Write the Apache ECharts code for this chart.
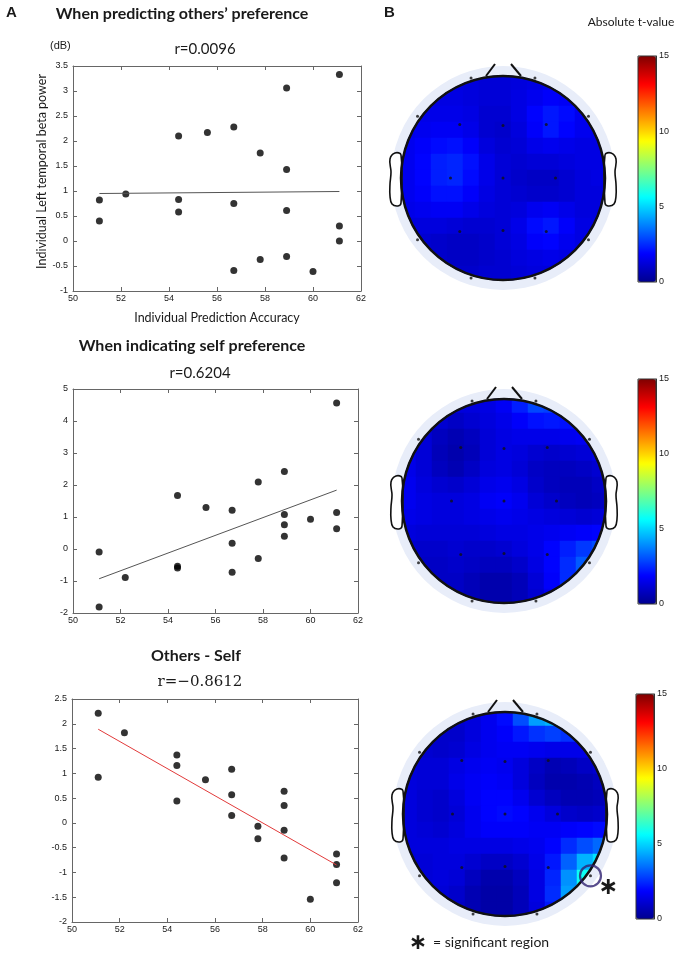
<!DOCTYPE html>
<html>
<head>
<meta charset="utf-8">
<script src="https://cdn.jsdelivr.net/npm/echarts@6/dist/echarts.min.js"></script>
<style>
  html, body { margin: 0; padding: 0; background: #fff; }
  #main { width: 681px; height: 954px; }
</style>
</head>
<body>
<div id="main"></div>
<script>
// x = individual prediction accuracy (%)
var accuracy = [51.1, 51.1, 52.2, 54.4, 54.4, 54.4, 55.6, 56.7, 56.7, 56.7,
                57.8, 57.8, 58.9, 58.9, 58.9, 58.9, 60.0, 61.1, 61.1, 61.1];
var betaOthers = [0.82, 0.40, 0.94, 2.10, 0.83, 0.58, 2.17, 2.28, 0.75, -0.59,
                  1.76, -0.37, 3.06, 1.43, 0.61, -0.31, -0.61, 3.33, 0.30, 0.00];
var betaSelf = [-0.09, -1.81, -0.89, 1.67, -0.54, -0.59, 1.30, 1.21, 0.18, -0.73,
                2.09, -0.30, 2.42, 1.08, 0.76, 0.40, 0.93, 4.56, 1.14, 0.63];
var betaDiff = [2.21, 0.92, 1.82, 1.37, 1.16, 0.44, 0.87, 1.08, 0.57, 0.15,
                -0.07, -0.32, 0.64, 0.35, -0.15, -0.71, -1.54, -0.63, -0.84, -1.21];
// regression line end points [x, y]
var fitOthers = [[51.1, 0.95], [61.1, 0.99]];
var fitSelf = [[51.1, -0.93], [61.1, 1.84]];
var fitDiff = [[51.1, 1.89], [61.1, -0.85]];
var titles = ['When predicting others\u2019 preference', 'When indicating self preference', 'Others - Self'];
var rLabels = ['r=0.0096', 'r=0.6204', 'r=\u22120.8612'];
var yMin = [-1, -2, -2], yMax = [3.5, 5, 2.5], yStep = [0.5, 1, 0.5];

// absolute t-value read on a 13 x 13 grid over the scalp (front row first)
var topoOthers = [
  [1.4,1.4,1.4,1.3,1.3,1.2,1.2,1.3,1.4,1.5,1.5,1.5,1.5],
  [1.4,1.4,1.4,1.4,1.3,1.2,1.2,1.4,1.6,1.8,1.7,1.5,1.5],
  [1.5,1.5,1.5,1.5,1.4,1.1,1.1,1.4,1.9,2.2,2.0,1.6,1.5],
  [1.5,1.6,1.7,1.7,1.5,1.1,1.0,1.3,1.8,2.2,1.9,1.6,1.5],
  [1.6,1.8,2.0,2.1,1.8,1.3,1.1,1.2,1.5,1.6,1.5,1.4,1.4],
  [1.6,1.9,2.3,2.4,2.1,1.5,1.2,1.1,1.2,1.2,1.3,1.4,1.4],
  [1.6,1.9,2.3,2.4,2.0,1.5,1.2,1.0,0.9,0.9,1.1,1.3,1.4],
  [1.6,1.8,2.1,2.1,1.8,1.4,1.2,1.1,1.0,1.0,1.1,1.3,1.3],
  [1.5,1.6,1.7,1.7,1.5,1.3,1.2,1.3,1.6,1.7,1.5,1.3,1.3],
  [1.3,1.3,1.3,1.2,1.1,1.1,1.2,1.5,2.0,2.2,1.8,1.4,1.3],
  [1.2,1.1,1.0,0.9,0.9,1.0,1.2,1.4,1.8,1.9,1.6,1.4,1.3],
  [1.2,1.1,1.0,0.9,0.9,1.0,1.1,1.3,1.4,1.5,1.4,1.3,1.3],
  [1.2,1.1,1.0,1.0,1.0,1.1,1.1,1.2,1.3,1.3,1.3,1.3,1.3]
];
var topoSelf = [
  [1.5,1.5,1.4,1.3,1.3,1.4,1.7,2.3,2.9,2.8,2.5,2.3,2.2],
  [1.5,1.4,1.1,0.9,1.1,1.3,1.5,1.8,2.1,2.2,2.1,2.0,2.0],
  [1.5,1.2,0.8,0.6,0.8,1.2,1.4,1.5,1.5,1.5,1.6,1.7,1.8],
  [1.5,1.2,0.7,0.5,0.7,1.2,1.4,1.3,1.1,1.0,1.1,1.2,1.4],
  [1.5,1.2,0.8,0.6,0.9,1.3,1.4,1.2,0.9,0.8,0.8,0.9,1.1],
  [1.6,1.3,1.1,1.0,1.2,1.5,1.6,1.4,1.0,0.8,0.7,0.7,0.9],
  [1.6,1.4,1.3,1.3,1.4,1.7,1.8,1.6,1.2,1.0,0.8,0.7,0.8],
  [1.5,1.4,1.3,1.3,1.4,1.5,1.6,1.5,1.4,1.3,1.2,1.1,1.2],
  [1.3,1.2,1.2,1.2,1.2,1.3,1.4,1.4,1.5,1.6,1.7,1.8,1.9],
  [1.1,1.0,1.0,1.1,1.0,1.0,1.1,1.3,1.5,1.9,2.3,2.7,3.0],
  [1.0,0.9,0.9,1.0,0.9,0.8,0.8,1.0,1.4,1.9,2.5,3.2,3.4],
  [1.0,0.9,0.9,0.9,0.7,0.5,0.5,0.7,1.2,1.8,2.5,3.0,3.2],
  [1.0,0.9,0.9,0.9,0.7,0.5,0.5,0.7,1.1,1.6,2.2,2.6,2.8]
];
var topoDiff = [
  [1.3,1.2,1.1,1.1,1.3,1.6,2.0,3.0,4.2,4.5,3.8,3.0,2.5],
  [1.3,1.1,1.0,1.0,1.3,1.6,1.8,2.2,2.6,2.8,2.6,2.2,2.0],
  [1.3,1.1,1.0,1.1,1.4,1.6,1.7,1.7,1.6,1.5,1.5,1.5,1.5],
  [1.3,1.2,1.2,1.4,1.6,1.7,1.6,1.3,0.9,0.6,0.7,0.9,1.1],
  [1.3,1.2,1.2,1.5,1.7,1.8,1.7,1.3,0.8,0.5,0.5,0.6,0.8],
  [1.3,1.1,1.0,1.3,1.7,1.9,1.9,1.6,1.1,0.8,0.6,0.6,0.7],
  [1.3,1.1,1.0,1.2,1.6,1.9,2.0,1.9,1.6,1.3,1.0,0.9,1.0],
  [1.3,1.2,1.1,1.3,1.6,1.8,1.8,1.8,1.7,1.7,1.8,1.9,2.0],
  [1.3,1.3,1.3,1.4,1.4,1.4,1.4,1.5,1.6,1.9,2.5,3.0,3.4],
  [1.2,1.2,1.3,1.3,1.1,0.9,0.9,1.1,1.5,2.2,3.3,4.5,5.2],
  [1.2,1.2,1.3,1.2,0.8,0.5,0.5,0.8,1.4,2.4,4.0,5.8,6.0],
  [1.2,1.2,1.2,1.0,0.6,0.4,0.4,0.7,1.4,2.5,4.2,5.0,5.0],
  [1.2,1.2,1.1,0.9,0.6,0.4,0.4,0.7,1.3,2.2,3.5,4.2,4.2]
];
// 10-20 electrode positions on the unit head (x right, y toward the back)
var electrodes = [
  [-0.31,-0.97],[0.31,-0.97],[-0.83,-0.60],[-0.42,-0.52],[0,-0.51],[0.42,-0.52],[0.83,-0.60],
  [-1.02,0],[-0.51,0],[0,0],[0.51,0],[1.02,0],
  [-0.83,0.60],[-0.42,0.52],[0,0.51],[0.42,0.52],[0.83,0.60],[-0.31,0.97],[0.31,0.97]
];
var significant = [[0.83, 0.60]];
var tTicks = [0, 15, 5];   // colorbar min, max, step

var jet = ['#00008f', '#0000ff', '#0080ff', '#00ffff', '#80ff80', '#ffff00', '#ff8000', '#ff0000', '#800000'];

var myChart = echarts.init(document.getElementById('main'));

var scatterBoxes = [
  { left: 73, top: 66, width: 288, height: 225 },
  { left: 73, top: 389, width: 285, height: 224 },
  { left: 72, top: 699, width: 286, height: 223 }
];
// heatmap box is 2*hr = 208 px so each of the 13 cells is exactly 16 px
var heads = [
  { cx: 503, cy: 178, r: 103, hr: 104 },
  { cx: 504, cy: 501, r: 103, hr: 104 },
  { cx: 505, cy: 814, r: 103, hr: 104 }
];
var bars = [
  { left: 638, top: 56, height: 226 },
  { left: 638, top: 379, height: 225 },
  { left: 636, top: 694, height: 225 }
];

var grid = [], xAxis = [], yAxis = [], series = [], visualMap = [], graphic = [];
var yData = [betaOthers, betaSelf, betaDiff];
var fits = [fitOthers, fitSelf, fitDiff];
var topos = [topoOthers, topoSelf, topoDiff];
var txt = '#1a1a1a';

// scatter panels (grids 0-2, axes 0-5)
for (var k = 0; k < 3; k++) {
  var sb = scatterBoxes[k];
  grid.push({ left: sb.left, top: sb.top, width: sb.width, height: sb.height });
  var lineCol = { color: '#666', width: 1 };
  ['bottom', 'top'].forEach(function (pos) {
    xAxis.push({
      gridIndex: k, type: 'value', min: 50, max: 62, interval: 2, position: pos,
      axisLine: { onZero: false, lineStyle: lineCol },
      axisTick: { inside: true, length: 4, lineStyle: lineCol },
      axisLabel: { show: pos === 'bottom', fontSize: 9, color: txt, fontFamily: 'Liberation Sans', margin: 3 },
      splitLine: { show: false },
      name: (k === 0 && pos === 'bottom') ? 'Individual Prediction Accuracy' : '',
      nameLocation: 'middle', nameGap: 20,
      nameTextStyle: { fontFamily: 'Lato', fontSize: 12.5, color: txt }
    });
  });
  ['left', 'right'].forEach(function (pos) {
    yAxis.push({
      gridIndex: k, type: 'value', min: yMin[k], max: yMax[k], interval: yStep[k], position: pos,
      axisLine: { onZero: false, lineStyle: lineCol },
      axisTick: { inside: true, length: 4, lineStyle: lineCol },
      axisLabel: { show: pos === 'left', fontSize: 9, color: txt, fontFamily: 'Liberation Sans', margin: 5 },
      splitLine: { show: false },
      name: (k === 0 && pos === 'left') ? 'Individual Left temporal beta power' : '',
      nameLocation: 'middle', nameGap: 22, nameRotate: 90,
      nameTextStyle: { fontFamily: 'Lato', fontSize: 12.5, color: txt, padding: [0, 0, 0, 14] }
    });
  });
  series.push({
    type: 'scatter', xAxisIndex: 2 * k, yAxisIndex: 2 * k, symbolSize: 7,
    itemStyle: { color: '#000' }, silent: true,
    data: accuracy.map(function (x, i) { return [x, yData[k][i]]; })
  });
  series.push({
    type: 'line', xAxisIndex: 2 * k, yAxisIndex: 2 * k, symbol: 'none', silent: true,
    lineStyle: { color: k === 2 ? '#e23a3a' : '#555', width: 1 },
    data: fits[k]
  });
}

// scalp maps: heatmap grids 3-5 (axes 6-8), electrode grids 6-8 (axes 9-11)
var cells = [];
for (var i = 0; i < 13; i++) cells.push(i);
function cellHitsHead(i, j) {
  var s = 2 / 13;
  var u0 = -1 + i * s, u1 = u0 + s, v0 = -1 + j * s, v1 = v0 + s;
  var du = Math.max(u0, Math.min(0, u1)), dv = Math.max(v0, Math.min(0, v1));
  return du * du + dv * dv < 1;
}
heads.forEach(function (h) {
  grid.push({ left: h.cx - h.hr, top: h.cy - h.hr, width: 2 * h.hr, height: 2 * h.hr });
});
heads.forEach(function (h) {
  grid.push({ left: h.cx - h.r, top: h.cy - h.r, width: 2 * h.r, height: 2 * h.r });
});
for (k = 0; k < 3; k++) {
  xAxis.push({ gridIndex: 3 + k, type: 'category', data: cells, show: false });
  yAxis.push({ gridIndex: 3 + k, type: 'category', data: cells, inverse: true, show: false });
}
for (k = 0; k < 3; k++) {
  xAxis.push({ gridIndex: 6 + k, type: 'value', min: -1, max: 1, show: false });
  yAxis.push({ gridIndex: 6 + k, type: 'value', min: -1, max: 1, inverse: true, show: false });
}
var heatSeriesIndex = [];
for (k = 0; k < 3; k++) {
  var data = [];
  topos[k].forEach(function (row, j) {
    row.forEach(function (val, i) {
      if (cellHitsHead(i, j)) data.push([i, j, val]);
    });
  });
  heatSeriesIndex.push(series.length);
  series.push({
    type: 'heatmap', xAxisIndex: 6 + k, yAxisIndex: 6 + k, data: data, silent: true,
    itemStyle: { borderWidth: 0 }
  });
  series.push({
    type: 'scatter', xAxisIndex: 9 + k, yAxisIndex: 9 + k, data: electrodes, silent: true,
    symbolSize: 3, itemStyle: { color: '#111' }, z: 60
  });
}
series.push({
  type: 'scatter', xAxisIndex: 11, yAxisIndex: 11, data: significant, silent: true,
  symbolSize: 21, itemStyle: { color: 'rgba(0,0,0,0)', borderColor: '#2e2170', borderWidth: 2.2 }, z: 61
});

// colorbars: grids 9-11 (axes 12-14) carry the tick labels, visualMap draws the gradient
for (k = 0; k < 3; k++) {
  var b = bars[k];
  grid.push({ left: b.left, top: b.top, width: 18, height: b.height, show: true,
              borderColor: '#333', borderWidth: 1, backgroundColor: 'rgba(0,0,0,0)', z: 10 });
  xAxis.push({ gridIndex: 9 + k, type: 'category', data: [''], show: false });
  yAxis.push({
    gridIndex: 9 + k, type: 'value', min: tTicks[0], max: tTicks[1], interval: tTicks[2], position: 'right',
    axisLine: { show: true, lineStyle: { color: '#333', width: 1 } },
    axisTick: { inside: true, length: 3, lineStyle: { color: '#333' } },
    axisLabel: { fontSize: 9, color: txt, fontFamily: 'Liberation Sans', margin: 3 },
    splitLine: { show: false }, z: 10
  });
  visualMap.push({
    type: 'continuous', seriesIndex: heatSeriesIndex[k], min: tTicks[0], max: tTicks[1],
    calculable: false, left: b.left, top: b.top, itemWidth: 18, itemHeight: b.height,
    padding: 0, inRange: { color: jet }
  });
}

// head outline, ears and nose
heads.forEach(function (h) {
  graphic.push({ type: 'circle', shape: { cx: h.cx, cy: h.cy, r: h.r }, style: { fill: '#0808d0' }, z: 1, silent: true });
  graphic.push({ type: 'ring', shape: { cx: h.cx, cy: h.cy, r: h.r + 27, r0: h.r }, style: { fill: '#fff' }, z: 50, silent: true });
  graphic.push({ type: 'ring', shape: { cx: h.cx, cy: h.cy, r: h.r + 9, r0: h.r }, style: { fill: '#e8edf9' }, z: 51, silent: true });
  [-1, 1].forEach(function (s) {
    var ex = h.cx + s * h.r;
    var pts = [[1, -23], [-5, -25], [-10, -19], [-9, -6], [-10, 6], [-10, 18], [-8, 26], [-2, 28], [1, 25]];
    graphic.push({
      type: 'polygon', z: 52, silent: true,
      shape: { points: pts.map(function (p) { return [ex - s * p[0], h.cy + p[1]]; }), smooth: 0.4 },
      style: { fill: '#fff', stroke: '#111', lineWidth: 1.6 }
    });
  });
  graphic.push({ type: 'circle', shape: { cx: h.cx, cy: h.cy, r: h.r - 1 }, style: { fill: null, stroke: '#111', lineWidth: 2.5 }, z: 53, silent: true });
  graphic.push({ type: 'polyline', shape: { points: [[h.cx - 17, h.cy - h.r + 1], [h.cx - 8, h.cy - h.r - 11]] }, style: { stroke: '#111', lineWidth: 2 }, z: 53, silent: true });
  graphic.push({ type: 'polyline', shape: { points: [[h.cx + 8, h.cy - h.r - 11], [h.cx + 18, h.cy - h.r + 1]] }, style: { stroke: '#111', lineWidth: 2 }, z: 53, silent: true });
});

function label(text, x, y, font, align) {
  graphic.push({
    type: 'text', x: x, y: y, z: 70, silent: true,
    style: { text: text, font: font, fill: txt, textAlign: align || 'center', textVerticalAlign: 'middle' }
  });
}
label('A', 6, 13, 'bold 15px "Liberation Sans"', 'left');
label('B', 384, 13, 'bold 15px "Liberation Sans"', 'left');
label(titles[0], 182, 14, 'bold 16px Lato');
label(titles[1], 192, 346, 'bold 16px Lato');
label(titles[2], 196, 656, 'bold 16px Lato');
label('(dB)', 50, 46, '11px "Liberation Sans"', 'left');
label(rLabels[0], 205, 49, '15px Lato');
label(rLabels[1], 200, 373, '15px Lato');
label(rLabels[2], 200, 682, '15px "DejaVu Serif"');
label('Absolute t-value', 631, 22, '12px Lato');
label('\u2217', 608, 888, 'bold 24px "DejaVu Sans"');
label('\u2217', 418, 943, 'bold 22px "DejaVu Sans"');
label('= significant region', 433, 942, '14px Lato', 'left');

var option = {
  backgroundColor: '#fff',
  animation: false,
  grid: grid,
  xAxis: xAxis,
  yAxis: yAxis,
  visualMap: visualMap,
  series: series,
  graphic: graphic
};
myChart.setOption(option);
</script>
</body>
</html>
